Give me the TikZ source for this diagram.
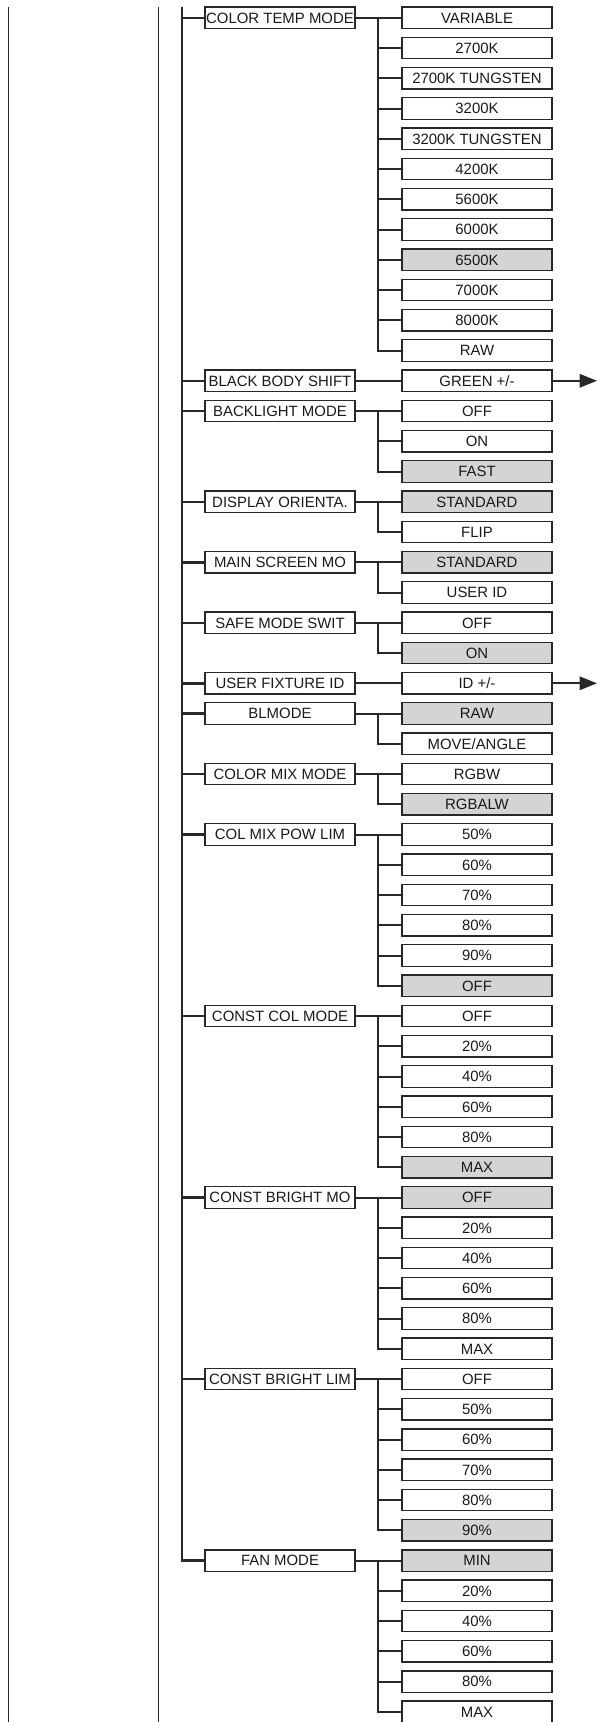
\documentclass[tikz,border=0pt]{standalone}
\usepackage{fontspec}
\setmainfont{Liberation Sans}
\usetikzlibrary{positioning, arrows.meta}
\definecolor{selgray}{RGB}{212,212,212}
\definecolor{linegray}{RGB}{40,40,40}

\begin{document}
\begin{tikzpicture}[x=0.75pt, y=-22.6875pt,
    menubox/.style={draw=linegray, line width=1pt, minimum width=112.5pt, minimum height=16.1pt,
        inner sep=0pt, text height=8pt, text depth=0pt, text=black!90, font=\fontsize{11.2}{13}\selectfont},
    optbox/.style={menubox},
    selbox/.style={menubox, fill=selgray},
    trunk/.style={draw=linegray, line width=1.8pt},
    branch/.style={draw=linegray, line width=1.5pt},
    frame/.style={draw=black!85, line width=0.8pt}]

    % Page size
    \useasboundingbox (0,-0.5884) rectangle (597,56.3372);

    % Frame lines on the left
    \coordinate (ftop1) at (8.5,-0.357);
    \coordinate (fbot1) at (8.5,56.4);
    \coordinate (ftop2) at (158.5,-0.357);
    \coordinate (fbot2) at (158.5,56.4);
    \draw[frame] (ftop1) -- (fbot1);
    \draw[frame] (ftop2) -- (fbot2);

    % Menu entries
    \node[menubox] (ctm) at (280,0) {COLOR TEMP MODE};
    \node[menubox] (bbs) at (280,12) {BLACK BODY SHIFT};
    \node[menubox] (blm) at (280,13) {BACKLIGHT MODE};
    \node[menubox] (dor) at (280,16) {DISPLAY ORIENTA.};
    \node[menubox] (msm) at (280,18) {MAIN SCREEN MO};
    \node[menubox] (sms) at (280,20) {SAFE MODE SWIT};
    \node[menubox] (ufi) at (280,22) {USER FIXTURE ID};
    \node[menubox] (blmode) at (280,23) {BLMODE};
    \node[menubox] (cmm) at (280,25) {COLOR MIX MODE};
    \node[menubox] (cmp) at (280,27) {COL MIX POW LIM};
    \node[menubox] (ccm) at (280,33) {CONST COL MODE};
    \node[menubox] (cbm) at (280,39) {CONST BRIGHT MO};
    \node[menubox] (cbl) at (280,45) {CONST BRIGHT LIM};
    \node[menubox] (fan) at (280,51) {FAN MODE};

    % Main trunk
    \coordinate (trunktop) at (182,-0.357);
    \foreach \m in {ctm,bbs,blm,dor,msm,sms,ufi,blmode,cmm,cmp,ccm,cbm,cbl,fan}
        \draw[trunk] (trunktop) |- (\m.west);

    % Options (grey = default)
    \foreach \txt/\sty [count=\i from 0] in {VARIABLE/optbox, 2700K/optbox, 2700K TUNGSTEN/optbox,
        3200K/optbox, 3200K TUNGSTEN/optbox, 4200K/optbox, 5600K/optbox, 6000K/optbox,
        6500K/selbox, 7000K/optbox, 8000K/optbox, RAW/optbox}
        \node[\sty] (ctm-\i) at (477,0+\i) {\txt};
    \node[optbox] (bbs-0) at (477,12) {GREEN +/-};
    \foreach \txt/\sty [count=\i from 0] in {OFF/optbox, ON/optbox, FAST/selbox}
        \node[\sty] (blm-\i) at (477,13+\i) {\txt};
    \foreach \txt/\sty [count=\i from 0] in {STANDARD/selbox, FLIP/optbox}
        \node[\sty] (dor-\i) at (477,16+\i) {\txt};
    \foreach \txt/\sty [count=\i from 0] in {STANDARD/selbox, USER ID/optbox}
        \node[\sty] (msm-\i) at (477,18+\i) {\txt};
    \foreach \txt/\sty [count=\i from 0] in {OFF/optbox, ON/selbox}
        \node[\sty] (sms-\i) at (477,20+\i) {\txt};
    \node[optbox] (ufi-0) at (477,22) {ID +/-};
    \foreach \txt/\sty [count=\i from 0] in {RAW/selbox, {MOVE/ANGLE}/optbox}
        \node[\sty] (blmode-\i) at (477,23+\i) {\txt};
    \foreach \txt/\sty [count=\i from 0] in {RGBW/optbox, RGBALW/selbox}
        \node[\sty] (cmm-\i) at (477,25+\i) {\txt};
    \foreach \txt/\sty [count=\i from 0] in {50\%/optbox, 60\%/optbox, 70\%/optbox, 80\%/optbox, 90\%/optbox, OFF/selbox}
        \node[\sty] (cmp-\i) at (477,27+\i) {\txt};
    \foreach \txt/\sty [count=\i from 0] in {OFF/optbox, 20\%/optbox, 40\%/optbox, 60\%/optbox, 80\%/optbox, MAX/selbox}
        \node[\sty] (ccm-\i) at (477,33+\i) {\txt};
    \foreach \txt/\sty [count=\i from 0] in {OFF/selbox, 20\%/optbox, 40\%/optbox, 60\%/optbox, 80\%/optbox, MAX/optbox}
        \node[\sty] (cbm-\i) at (477,39+\i) {\txt};
    \foreach \txt/\sty [count=\i from 0] in {OFF/optbox, 50\%/optbox, 60\%/optbox, 70\%/optbox, 80\%/optbox, 90\%/selbox}
        \node[\sty] (cbl-\i) at (477,45+\i) {\txt};
    \foreach \txt/\sty [count=\i from 0] in {MIN/selbox, 20\%/optbox, 40\%/optbox, 60\%/optbox, 80\%/optbox, MAX/optbox}
        \node[\sty] (fan-\i) at (477,51+\i) {\txt};

    % Menu to option connectors
    \foreach \m/\n in {ctm/11, blm/2, dor/1, msm/1, sms/1, blmode/1, cmm/1, cmp/5, ccm/5, cbm/5, cbl/5, fan/5} {
        \draw[branch] (\m.east) -- (\m-0.west);
        \foreach \i in {1,...,\n}
            \draw[branch] (\m-0.west) ++(-23.5,0) |- (\m-\i.west);
    }
    \draw[branch] (bbs.east) -- (bbs-0.west);
    \draw[branch] (ufi.east) -- (ufi-0.west);

    % Arrows to the next page
    \coordinate (pageedge) at (597,0);
    \draw[branch, -{Triangle[length=13pt, width=10pt]}] (bbs-0.east) -- (bbs-0.east -| pageedge);
    \draw[branch, -{Triangle[length=13pt, width=10pt]}] (ufi-0.east) -- (ufi-0.east -| pageedge);
\end{tikzpicture}
\end{document}
